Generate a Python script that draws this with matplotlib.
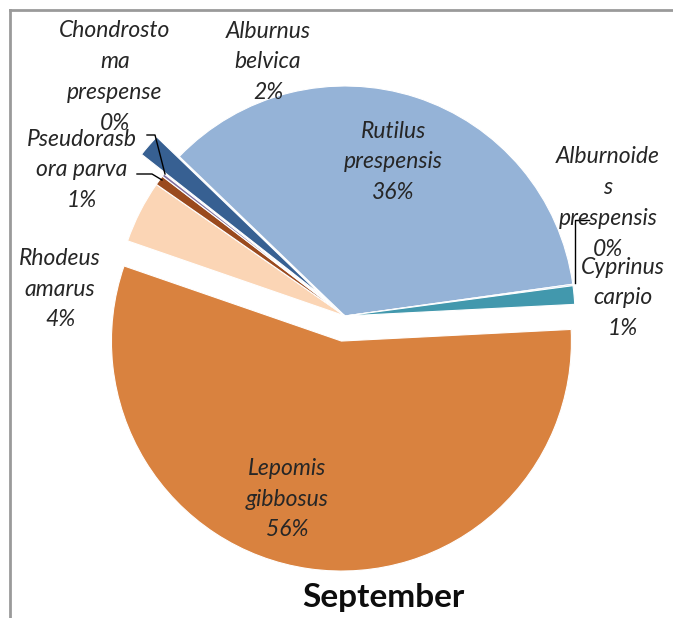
import matplotlib
matplotlib.use("Agg")
import matplotlib.pyplot as plt

# ---- data ----
species = ["Rutilus\nprespensis", "Alburnoide\ns\nprespensis", "Cyprinus\ncarpio",
           "Lepomis\ngibbosus", "Rhodeus\namarus", "Pseudorasb\nora parva",
           "Chondrosto\nma\nprespense", "Alburnus\nbelvica"]
values = [35.6, 0.1, 1.3, 56.1, 4.4, 0.7, 0.2, 1.6]
title = "September"

# ---- style / layout ----
colors = ["#95B3D7", "#8EB4E3", "#4298AD", "#D9823F", "#FBD5B5", "#9A4A1E", "#7F6FA0", "#376092"]
explode_frac = [0, 0, 0, 0.11, 0, 0, 0, 0.13]
label_pos = [(393, 160), (608, 201), (623, 296), (287, 497), (60, 287), (82, 168), (115, 75), (268, 60)]
W, H = 673, 618
R = 230


def Y(y):
    return H - y


fig = plt.figure(figsize=(W / 100, H / 100), dpi=100)
ax = fig.add_axes([0, 0, 1, 1])
ax.pie(values, colors=colors, explode=[e * R for e in explode_frac], startangle=136.1,
       counterclock=False, center=(345, Y(316)), radius=R,
       wedgeprops=dict(edgecolor="white", linewidth=0.8))
ax.set_xlim(0, W)
ax.set_ylim(0, H)
ax.set_aspect("equal")
ax.axis("off")

for name, v, (x, y) in zip(species, values, label_pos):
    ax.text(x, Y(y + 2), f"{name}\n{round(v)}%", ha="center", va="center",
            fontsize=16.5, fontstyle="italic", family=["Lato", "DejaVu Sans"],
            color="#262626", linespacing=1.58)

# leader lines
leaders = [[(147, 135), (155, 135), (165, 174)],
           [(137, 174), (152, 174), (162, 180)],
           [(589, 220), (575, 220), (575, 283)]]
for pts in leaders:
    ax.plot([p[0] for p in pts], [Y(p[1]) for p in pts], color="black", lw=1.0)

ax.text(383, Y(598), title, ha="center", va="center", fontsize=24, fontweight="bold",
        family=["Lato", "DejaVu Sans"], color="#0d0d0d")

# frame (partial border)
ax.plot([10, 10], [Y(618), Y(10)], color="#9a9a9a", lw=2)
ax.plot([10, W], [Y(10), Y(10)], color="#9a9a9a", lw=2)

fig.savefig("out.png", dpi=100)
